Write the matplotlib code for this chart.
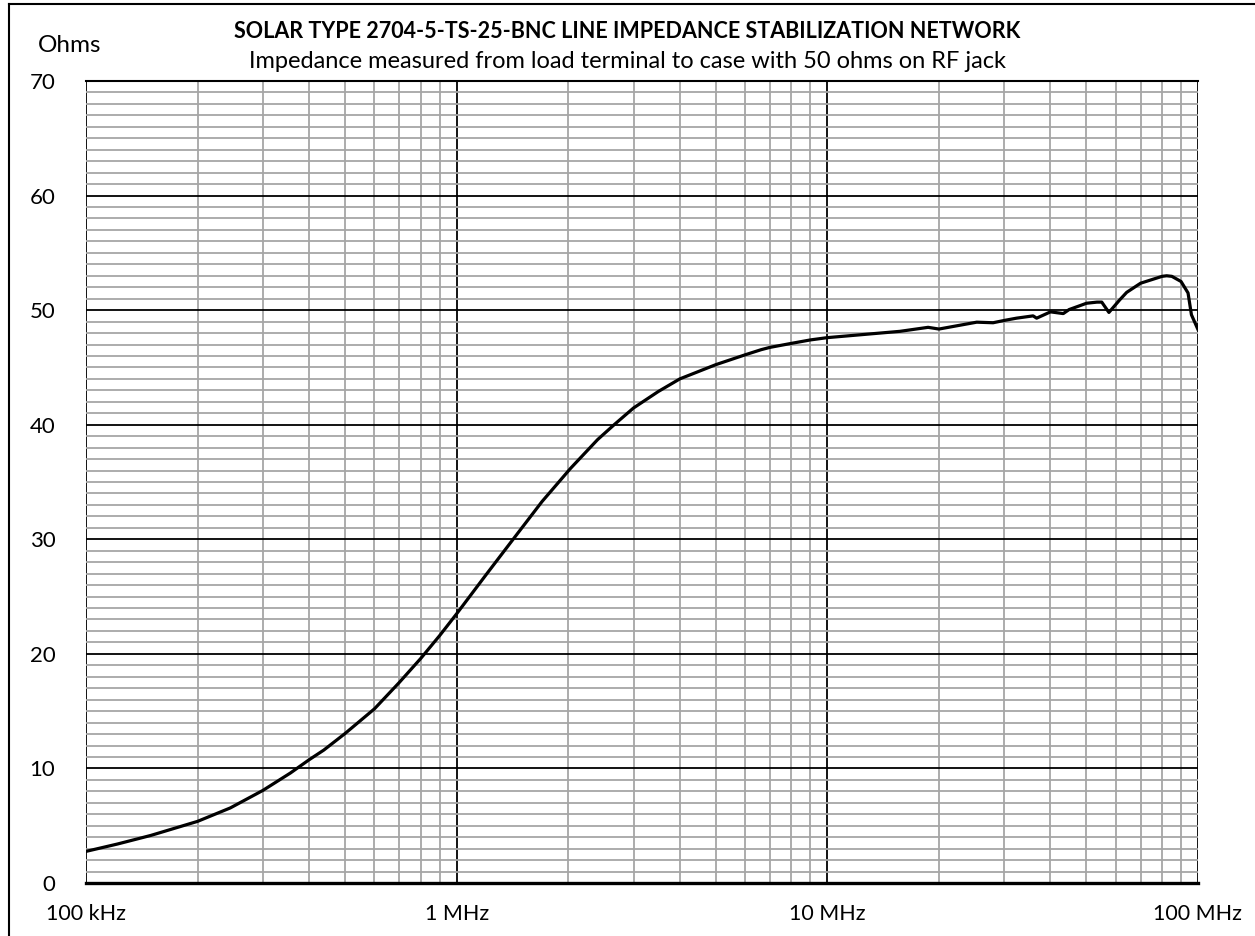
import numpy as np
import matplotlib
matplotlib.use("Agg")
import matplotlib.pyplot as plt
from matplotlib.ticker import LogLocator, MultipleLocator, FixedLocator, NullFormatter
from matplotlib.lines import Line2D

plt.rcParams['font.family'] = ['Lato', 'DejaVu Sans']

# impedance curve (frequency in MHz, impedance in ohms)
freq_mhz = [0.1, 0.1215, 0.1495, 0.2, 0.245, 0.3, 0.356, 0.4, 0.438, 0.5, 0.6, 0.7, 0.8,
            0.9, 1.0, 1.2, 1.42, 1.7, 2.03, 2.4, 2.66, 3.0, 3.5, 4.0, 5.0, 6.0, 6.63, 7.0,
            8.0, 9.0, 10, 15.7, 18.7, 20, 25.3, 28, 30, 32.4, 35.9, 36.7, 40, 43.3, 44.9,
            48.1, 50, 53.4, 55, 57.5, 61.5, 64.2, 70, 80, 82.3, 85, 90, 94, 96, 100]
ohms = [2.76, 3.4, 4.15, 5.38, 6.55, 8.08, 9.6, 10.76, 11.6, 13.05, 15.2, 17.5, 19.6,
        21.6, 23.5, 26.9, 30.0, 33.3, 36.2, 38.7, 40.0, 41.46, 42.9, 44.0, 45.24, 46.1, 46.55, 46.75,
        47.1, 47.4, 47.6, 48.15, 48.5, 48.35, 48.95, 48.9, 49.1, 49.3, 49.5, 49.3, 49.85, 49.7, 50.05,
        50.4, 50.6, 50.7, 50.7, 49.8, 50.9, 51.55, 52.35, 52.95, 53.0, 52.95, 52.5, 51.5, 49.6, 48.3]

x_ticks = [1e5, 1e6, 1e7, 1e8]
x_labels = ['100 kHz', '1 MHz', '10 MHz', '100 MHz']
y_ticks = [0, 10, 20, 30, 40, 50, 60, 70]

title = 'SOLAR TYPE 2704-5-TS-25-BNC LINE IMPEDANCE STABILIZATION NETWORK'
subtitle = 'Impedance measured from load terminal to case with 50 ohms on RF jack'

fig = plt.figure(figsize=(12.55, 9.36), dpi=100)
ax = fig.add_axes([86/1255, 53/936, 1112/1255, 802/936])

freq_hz = np.array(freq_mhz) * 1e6
ax.plot(freq_hz, ohms, color='black', lw=2.3, zorder=5, solid_joinstyle='round')

ax.set_xscale('log')
ax.set_xlim(1e5, 1e8)
ax.set_ylim(0, 70)

ax.xaxis.set_major_locator(FixedLocator(x_ticks))
ax.set_xticklabels(x_labels)
ax.xaxis.set_minor_locator(LogLocator(base=10, subs=np.arange(2, 10)))
ax.xaxis.set_minor_formatter(NullFormatter())
ax.yaxis.set_major_locator(FixedLocator(y_ticks))
ax.yaxis.set_minor_locator(MultipleLocator(1))

ax.grid(which='minor', color='#A6A6A6', lw=1.3)
ax.grid(which='major', color='black', lw=1.3)
ax.set_axisbelow(True)

ax.tick_params(which='both', length=0)
ax.tick_params(axis='x', pad=15, labelsize=15.5)
ax.tick_params(axis='y', pad=22, labelsize=16)

for s in ['left', 'right']:
    ax.spines[s].set_visible(False)
ax.spines['top'].set_linewidth(1.5)
ax.spines['bottom'].set_linewidth(2.4)

fig.text(0.5, 1 - 32/936, title, ha='center', va='center', fontsize=15.5, fontweight='bold')
fig.text(0.5, 1 - 62/936, subtitle, ha='center', va='center', fontsize=17)
fig.text(38/1255, 1 - 45/936, 'Ohms', ha='left', va='center', fontsize=17.5)

# outer frame
fig.add_artist(Line2D([9/1255, 9/1255], [0, 1 - 4/936], transform=fig.transFigure, color='black', lw=1.5))
fig.add_artist(Line2D([9/1255, 1], [1 - 4/936, 1 - 4/936], transform=fig.transFigure, color='black', lw=1.5))

fig.savefig('out.png', dpi=100)
